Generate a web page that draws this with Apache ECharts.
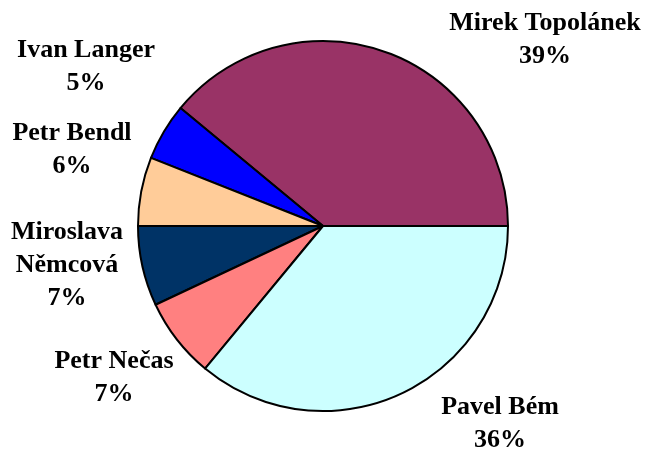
<!DOCTYPE html>
<html>
<head>
<meta charset="utf-8">
<script src="https://cdn.jsdelivr.net/npm/echarts@6/dist/echarts.min.js"></script>
<style>html,body{margin:0;padding:0;background:#fff;}#c{width:647px;height:450px;}</style>
</head>
<body>
<div id="c"></div>
<script>
var categories = ['Mirek Topolánek', 'Ivan Langer', 'Petr Bendl', 'Miroslava Němcová', 'Petr Nečas', 'Pavel Bém'];
var values = [39, 5, 6, 7, 7, 36];
var colors = ['#993366', '#0000FF', '#FFCC99', '#003366', '#FF8080', '#CCFFFF'];
var labelCenters = [[545, 40], [86, 67], [72, 150], [67, 265], [114, 378], [500, 424]];

var chart = echarts.init(document.getElementById('c'), null, {renderer: 'canvas'});
var data = categories.map(function (n, i) {
  return {name: n, value: values[i], itemStyle: {color: colors[i]}};
});
chart.setOption({
  animation: false,
  series: [{
    type: 'pie',
    center: [323, 226],
    radius: 185,
    startAngle: 0,
    clockwise: false,
    data: data,
    itemStyle: {borderColor: '#000', borderWidth: 2},
    emphasis: {disabled: true},
    labelLine: {show: false},
    label: {
      show: true,
      position: 'outside',
      alignTo: 'none',
      overflow: 'none',
      fontFamily: '"Liberation Serif", "Times New Roman", serif',
      fontWeight: 'bold',
      fontSize: 26,
      lineHeight: 33,
      color: '#000',
      align: 'center',
      formatter: function (p) {
        var n = p.name === 'Miroslava Němcová' ? 'Miroslava\nNěmcová' : p.name;
        return n + '\n' + p.value + '%';
      }
    },
    labelLayout: function (p) {
      var c = labelCenters[p.dataIndex];
      return {x: c[0], y: c[1], align: 'center', verticalAlign: 'middle'};
    }
  }]
});
</script>
</body>
</html>
